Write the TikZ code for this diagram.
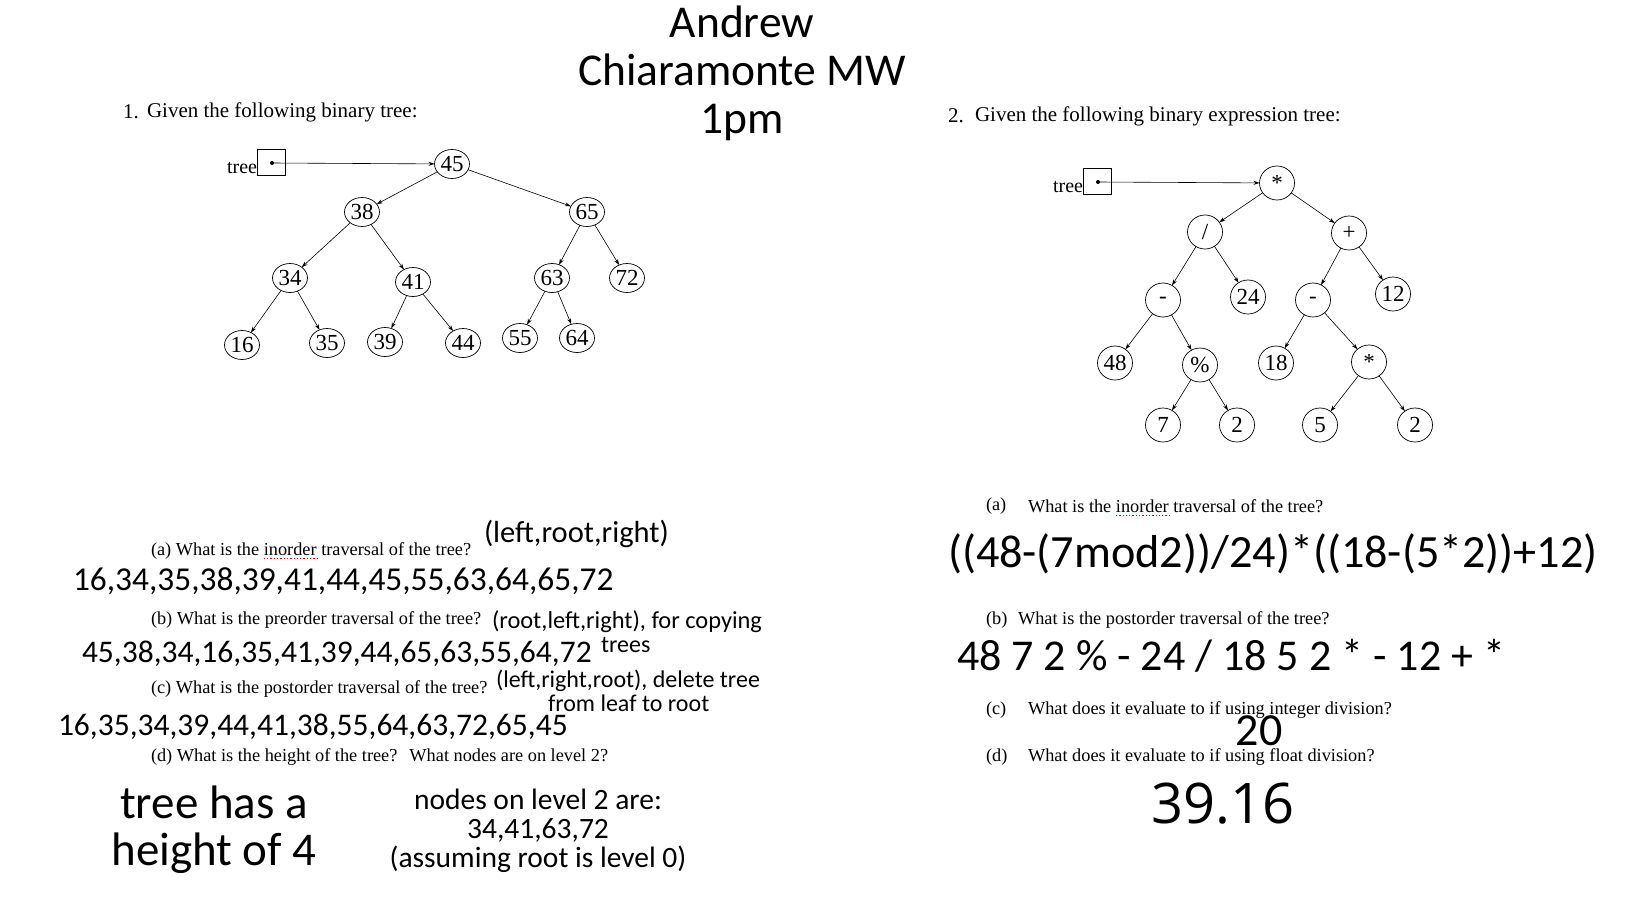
\documentclass[tikz,border=0pt]{standalone}
\usepackage{fontspec}
\setmainfont{Liberation Serif}
\newfontfamily\calib{Carlito}
\newfontfamily\osans{Open Sans}
\usetikzlibrary{shapes.geometric,arrows.meta}
\begin{document}
\begin{tikzpicture}[x=1pt,y=-1pt,
  every node/.style={inner sep=0pt,outer sep=0pt},
  tnode/.style={draw,ellipse,minimum width=35pt,minimum height=29pt,line width=0.7pt,font=\fontsize{23}{24}\selectfont},
  enode/.style={draw,ellipse,minimum width=35pt,minimum height=34pt,line width=0.7pt,font=\fontsize{23}{24}\selectfont},
  link/.style={-{Stealth[length=6pt,width=4pt]},line width=0.6pt},
  ptrbox/.style={draw,minimum width=28pt,minimum height=26pt,line width=0.7pt},
  ptrdot/.style={circle,fill,minimum size=4pt},
  treelbl/.style={font=\fontsize{20}{22}\selectfont,anchor=base east},
  head/.style={font=\fontsize{21}{24}\selectfont,anchor=west},
  qq/.style={font=\fontsize{18.3}{20}\selectfont,anchor=west},
  qqb/.style={font=\fontsize{18.3}{20}\selectfont,anchor=base west},
  squig/.style={red,dotted,line width=1.3pt},
  hand/.style={font=\calib\fontsize{#1}{#1}\selectfont,anchor=west},
  handc/.style={font=\calib\fontsize{#1}{#1}\selectfont,align=center}
]
\useasboundingbox (0,0) rectangle (1630,910);

% Title
\node[font=\calib\fontsize{45.5}{48}\selectfont,align=center] (title) at (742,73) {Andrew\\Chiaramonte MW\\1pm};

% ---------------- Problem 1 ----------------
\node[head] (h1n) at (123,112) {1.};
\node[head] (h1) at (147,112) {Given the following binary tree:};

\node[ptrbox] (box1) at (271,162) {};
\node[ptrdot] (dot1) at (272,163) {};
\node[treelbl] (tl1) at ([yshift=2pt]box1.south west) {tree};

\node[tnode] (n45) at (452,164) {45};
\node[tnode] (n38) at (362,212) {38};
\node[tnode] (n65) at (587,212) {65};
\node[tnode] (n34) at (290,278) {34};
\node[tnode] (n41) at (413,282) {41};
\node[tnode] (n63) at (552,278) {63};
\node[tnode] (n72) at (627,278) {72};
\node[tnode] (n16) at (242,345) {16};
\node[tnode] (n35) at (327,343) {35};
\node[tnode] (n39) at (385,342) {39};
\node[tnode] (n44) at (463,343) {44};
\node[tnode] (n55) at (520,338) {55};
\node[tnode] (n64) at (577,338) {64};

\draw[link] (dot1.center) -- (n45);
\draw[link] (n45) -- (n38);
\draw[link] (n45) -- (n65);
\draw[link] (n38) -- (n34);
\draw[link] (n38) -- (n41);
\draw[link] (n65) -- (n63);
\draw[link] (n65) -- (n72);
\draw[link] (n34) -- (n16);
\draw[link] (n34) -- (n35);
\draw[link] (n41) -- (n39);
\draw[link] (n41) -- (n44);
\draw[link] (n63) -- (n55);
\draw[link] (n63) -- (n64);

% questions 1
\node[qq] (qa1) at (151,551) {(a) What is the};
\node[qqb] (qa2) at ([xshift=4.6pt]qa1.base east) {inorder};
\node[qqb] (qa3) at ([xshift=4.6pt]qa2.base east) {traversal of the tree?};
\draw[squig] ([yshift=-3pt]qa2.base west) -- ([yshift=-3pt]qa2.base east);
\node[hand=30.5] (aa1) at (484,534) {(left,root,right)};
\node[hand=33.4] (ans1a) at (73,581) {16,34,35,38,39,41,44,45,55,63,64,65,72};

\node[qq] (qb1) at (151,620) {(b) What is the preorder traversal of the tree?};
\node[hand=24.4] (ab1) at (492,622) {(root,left,right), for copying};
\node[hand=31.5] (ans1b) at (82,654) {45,38,34,16,35,41,39,44,65,63,55,64,72};
\node[hand=24] (ab2) at (601,645) {trees};

\node[qq] (qc1) at (151,689) {(c) What is the postorder traversal of the tree?};
\node[hand=24] (ac1) at (496,681) {(left,right,root), delete tree};
\node[hand=24] (ac2) at (548,703) {from leaf to root};
\node[hand=31.5] (ans1c) at (58,727) {16,35,34,39,44,41,38,55,64,63,72,65,45};

\node[qq] (qd1) at (151,757) {(d) What is the height of the tree?\hspace{12pt}What nodes are on level 2?};
\node[font=\calib\fontsize{47}{47}\selectfont,align=center] (ans1d) at (214,830) {tree has a\\height of 4};
\node[font=\calib\fontsize{29.5}{29}\selectfont,align=center] (ans1e) at (538,831) {nodes on level 2 are:\\34,41,63,72\\(assuming root is level 0)};

% ---------------- Problem 2 ----------------
\node[head] (h2n) at (948,116) {2.};
\node[head] (h2) at (975,116) {Given the following binary expression tree:};

\node[ptrbox] (box2) at (1097,181) {};
\node[ptrdot] (dot2) at (1098,182) {};
\node[treelbl] (tl2) at ([yshift=2pt]box2.south west) {tree};

\node[enode] (r)   at (1277,183) {*};
\node[enode] (dv)  at (1205,232) {/};
\node[enode] (pl)  at (1349,233) {+};
\node[enode] (m1)  at (1163,300) {-};
\node[enode] (t24) at (1248,297) {24};
\node[enode] (m2)  at (1313,300) {-};
\node[enode] (t12) at (1393,294) {12};
\node[enode] (t48) at (1115,363) {48};
\node[enode] (pc)  at (1200,365) {\%};
\node[enode] (t18) at (1276,363) {18};
\node[enode] (st)  at (1369,362) {*};
\node[enode] (t7)  at (1163,425) {7};
\node[enode] (t2a) at (1237,425) {2};
\node[enode] (t5)  at (1320,425) {5};
\node[enode] (t2b) at (1415,425) {2};

\draw[link] (dot2.center) -- (r);
\draw[link] (r) -- (dv);
\draw[link] (r) -- (pl);
\draw[link] (dv) -- (m1);
\draw[link] (dv) -- (t24);
\draw[link] (pl) -- (m2);
\draw[link] (pl) -- (t12);
\draw[link] (m1) -- (t48);
\draw[link] (m1) -- (pc);
\draw[link] (m2) -- (t18);
\draw[link] (m2) -- (st);
\draw[link] (pc) -- (t7);
\draw[link] (pc) -- (t2a);
\draw[link] (st) -- (t5);
\draw[link] (st) -- (t2b);

% questions 2
\node[qq] (ra0) at (986,506) {(a)};
\node[qq] (ra1) at (1028,506) {What is the};
\node[qqb] (ra2) at ([xshift=4.6pt]ra1.base east) {inorder};
\node[qqb] (ra3) at ([xshift=4.6pt]ra2.base east) {traversal of the tree?};
\draw[squig] ([yshift=-3pt]ra2.base west) -- ([yshift=-3pt]ra2.base east);
\node[hand=46.2] (ans2a) at (948,554) {((48-(7mod2))/24)*((18-(5*2))+12)};

\node[qq] (rb0) at (986,620) {(b)};
\node[qq] (rb1) at (1018,620) {What is the postorder traversal of the tree?};
\node[hand=44] (ans2b) at (957,656) {48 7 2 \% - 24 / 18 5 2 * - 12 + *};

\node[qq] (rc0) at (986,710) {(c)};
\node[qq] (rc1) at (1028,710) {What does it evaluate to if using integer division?};
\node[handc=46] (ans2c) at (1259,731) {20};

\node[qq] (rd0) at (986,757) {(d)};
\node[qq] (rd1) at (1028,757) {What does it evaluate to if using float division?};
\node[font=\osans\fontsize{56}{56}\selectfont] (ans2d) at (1223,804) {39.16};
\end{tikzpicture}
\end{document}
